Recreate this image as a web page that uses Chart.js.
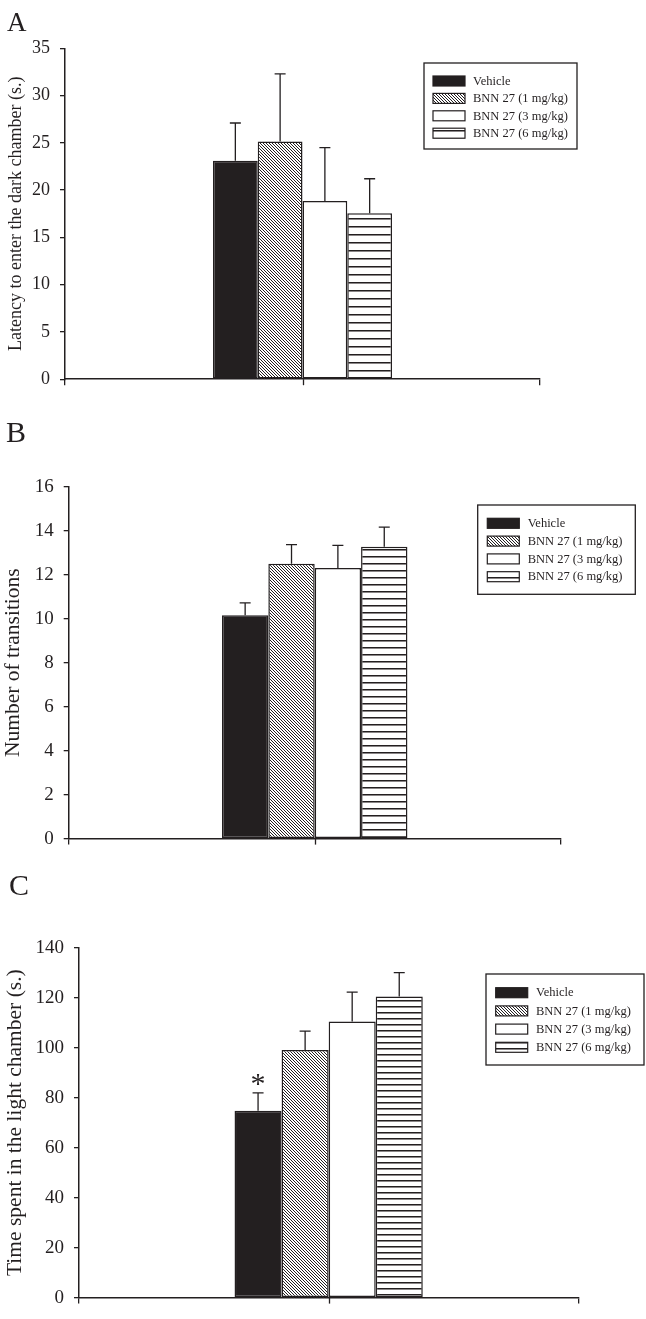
<!DOCTYPE html>
<html>
<head>
<meta charset="utf-8">
<script src="https://cdn.jsdelivr.net/npm/chart.js@4.4.0/dist/chart.umd.min.js"></script>
<style>
  html, body { margin: 0; padding: 0; background: #fff; }
  body { width: 646px; height: 1319px; position: relative; overflow: hidden; color: #231f20; }
  .panel { position: absolute; left: 0; width: 646px; }
  .panel canvas { display: block; }
  .letter { position: absolute; font-family: 'Liberation Serif', serif; line-height: 1; color: #231f20; }
</style>
</head>
<body>
<div class="panel" style="top:0;height:400px"><canvas id="chartA" width="646" height="400"></canvas></div>
<div class="panel" style="top:400px;height:460px"><canvas id="chartB" width="646" height="460"></canvas></div>
<div class="panel" style="top:860px;height:459px"><canvas id="chartC" width="646" height="459"></canvas></div>
<div class="letter" style="left:7px;top:9px;font-size:27px">A</div>
<div class="letter" style="left:6px;top:417px;font-size:30px">B</div>
<div class="letter" style="left:9px;top:870px;font-size:30px">C</div>

<script>
// Data (mean bar height, SEM = error bar length above the mean)
const categories = [''];
const groups = ['Vehicle', 'BNN 27 (1 mg/kg)', 'BNN 27 (3 mg/kg)', 'BNN 27 (6 mg/kg)'];

const latencyMean = [23.1, 25.15, 18.85, 17.55];
const latencySem = [4.0, 7.15, 5.65, 3.65];
const latencyTicks = [0, 5, 10, 15, 20, 25, 30, 35];

const transitionsMean = [10.15, 12.5, 12.3, 13.27];
const transitionsSem = [0.57, 0.87, 1.03, 0.89];
const transitionsTicks = [0, 2, 4, 6, 8, 10, 12, 14, 16];

const lightTimeMean = [74.8, 99.1, 110.5, 120.5];
const lightTimeSem = [7.1, 7.5, 11.7, 9.5];
const lightTimeMarks = ['*', '', '', ''];
const lightTimeTicks = [0, 20, 40, 60, 80, 100, 120, 140];

const ink = '#231f20';
const serif = 'Liberation Serif';

// fill patterns
function hatchPattern(size) {
    const c = document.createElement('canvas');
    c.width = size; c.height = size;
    const g = c.getContext('2d');
    g.fillStyle = '#fff';
    g.fillRect(0, 0, size, size);
    g.strokeStyle = ink;
    g.lineWidth = 1;
    g.beginPath();
    g.moveTo(-1, -1); g.lineTo(size + 1, size + 1);
    g.moveTo(-1, size - 1); g.lineTo(1, size + 1);
    g.moveTo(size - 1, -1); g.lineTo(size + 1, 1);
    g.stroke();
    return g.createPattern(c, 'repeat');
}

function stripePattern(gap) {
    const c = document.createElement('canvas');
    c.width = 4; c.height = gap;
    const g = c.getContext('2d');
    g.fillStyle = '#fff';
    g.fillRect(0, 0, 4, gap);
    g.fillStyle = ink;
    g.fillRect(0, 2, 4, 1);
    g.fillStyle = '#8a8687';
    g.fillRect(0, 3, 4, 1);
    return g.createPattern(c, 'repeat');
}

// error bars, significance marks and the centre tick on the x axis
const errorBarPlugin = {
    id: 'errorBars',
    afterDatasetsDraw(chart, args, opts) {
        const ctx = chart.ctx;
        const y = chart.scales.y;
        const x = chart.scales.x;
        ctx.save();
        ctx.strokeStyle = ink;
        ctx.lineWidth = 1.3;
        chart.data.datasets.forEach((ds, i) => {
            const bar = chart.getDatasetMeta(i).data[0];
            const top = y.getPixelForValue(ds.data[0] + opts.sem[i]);
            ctx.beginPath();
            ctx.moveTo(bar.x, bar.y);
            ctx.lineTo(bar.x, top);
            ctx.moveTo(bar.x - 5.5, top);
            ctx.lineTo(bar.x + 5.5, top);
            ctx.stroke();
            if (opts.marks && opts.marks[i]) {
                ctx.fillStyle = ink;
                ctx.font = '30px ' + serif;
                ctx.textAlign = 'center';
                ctx.textBaseline = 'alphabetic';
                ctx.fillText(opts.marks[i], bar.x, top);
            }
        });
        // tick under the category centre
        const cx = Math.round(x.getPixelForTick(0)) + 0.5;
        ctx.beginPath();
        ctx.moveTo(cx, chart.chartArea.bottom);
        ctx.lineTo(cx, chart.chartArea.bottom + 6);
        ctx.stroke();
        ctx.restore();
    }
};

// boxed legend inside the plot
const boxLegendPlugin = {
    id: 'boxLegend',
    afterDraw(chart, args, o) {
        const ctx = chart.ctx;
        ctx.save();
        ctx.strokeStyle = ink;
        ctx.lineWidth = 1.3;
        ctx.strokeRect(o.x, o.y, o.w, o.h);
        ctx.font = o.fontSize + 'px ' + serif;
        ctx.textBaseline = 'middle';
        ctx.textAlign = 'left';
        chart.data.datasets.forEach((ds, i) => {
            const yc = o.row0 + i * o.rowGap;
            ctx.fillStyle = ds.backgroundColor;
            ctx.fillRect(o.sx, yc - 5, 32, 10);
            ctx.lineWidth = 1.2;
            ctx.strokeRect(o.sx, yc - 5, 32, 10);
            ctx.fillStyle = ink;
            ctx.fillText(ds.label, o.tx, yc + 0.5);
        });
        ctx.restore();
    }
};

function makePanel(id, p) {
    const canvas = document.getElementById(id);
    const W = canvas.width, H = canvas.height;
    const fills = [ink, hatchPattern(3), '#ffffff', stripePattern(p.stripeGap)];
    return new Chart(canvas, {
        type: 'bar',
        data: {
            labels: categories,
            datasets: groups.map((g, i) => ({
                label: g,
                data: [p.mean[i]],
                backgroundColor: fills[i],
                borderColor: ink,
                borderWidth: 1.5,
                borderSkipped: false
            }))
        },
        options: {
            responsive: false,
            animation: false,
            devicePixelRatio: 1,
            events: [],
            datasets: { bar: { categoryPercentage: 0.377, barPercentage: 1 } },
            layout: {
                padding: { left: 0, top: p.area.top, right: W - p.area.right, bottom: H - p.area.bottom - 10 }
            },
            plugins: {
                legend: { display: false },
                tooltip: { enabled: false },
                errorBars: { sem: p.sem, marks: p.marks },
                boxLegend: p.legend
            },
            scales: {
                x: {
                    grid: { display: true, drawOnChartArea: false, tickLength: 6, color: ink, lineWidth: 1.3 },
                    border: { color: ink, width: 1.5 },
                    ticks: { display: false },
                    afterFit: s => { s.height = 10; }
                },
                y: {
                    min: p.ticks[0],
                    max: p.ticks[p.ticks.length - 1],
                    afterBuildTicks: s => { s.ticks = p.ticks.map(v => ({ value: v })); },
                    grid: { drawOnChartArea: false, tickLength: 5, color: ink, lineWidth: 1.3 },
                    border: { color: ink, width: 1.5 },
                    ticks: { color: ink, padding: 10, font: { family: serif, size: p.tickSize } },
                    title: {
                        display: true,
                        text: p.title,
                        color: ink,
                        font: { family: serif, size: p.titleSize },
                        padding: { top: p.titlePad, bottom: 0 }
                    },
                    afterFit: s => { s.width = p.area.left; }
                }
            }
        },
        plugins: [errorBarPlugin, boxLegendPlugin]
    });
}

makePanel('chartA', {
    mean: latencyMean, sem: latencySem, ticks: latencyTicks,
    title: 'Latency to enter the dark chamber (s.)',
    titleSize: 18, titlePad: 5, tickSize: 18, stripeGap: 8,
    area: { left: 65, right: 540, top: 48.3, bottom: 388.3 },
    legend: { x: 424, y: 63, w: 153, h: 86, sx: 433, tx: 473, row0: 81, rowGap: 17.4, fontSize: 12.5 }
});

makePanel('chartB', {
    mean: transitionsMean, sem: transitionsSem, ticks: transitionsTicks,
    title: 'Number of transitions',
    titleSize: 21.5, titlePad: 0, tickSize: 19, stripeGap: 7,
    area: { left: 68.7, right: 560.7, top: 86.7, bottom: 442.3 },
    legend: { x: 477.7, y: 105, w: 157.6, h: 89.3, sx: 487.3, tx: 527.7, row0: 123.3, rowGap: 17.8, fontSize: 12.5 }
});

makePanel('chartC', {
    mean: lightTimeMean, sem: lightTimeSem, marks: lightTimeMarks, ticks: lightTimeTicks,
    title: 'Time spent in the light chamber (s.)',
    titleSize: 21.5, titlePad: 2, tickSize: 19, stripeGap: 6,
    area: { left: 79, right: 578.3, top: 87.7, bottom: 446.7 },
    legend: { x: 486, y: 114, w: 158, h: 91, sx: 495.7, tx: 536, row0: 132.7, rowGap: 18.2, fontSize: 12.5 }
});
</script>
</body>
</html>
